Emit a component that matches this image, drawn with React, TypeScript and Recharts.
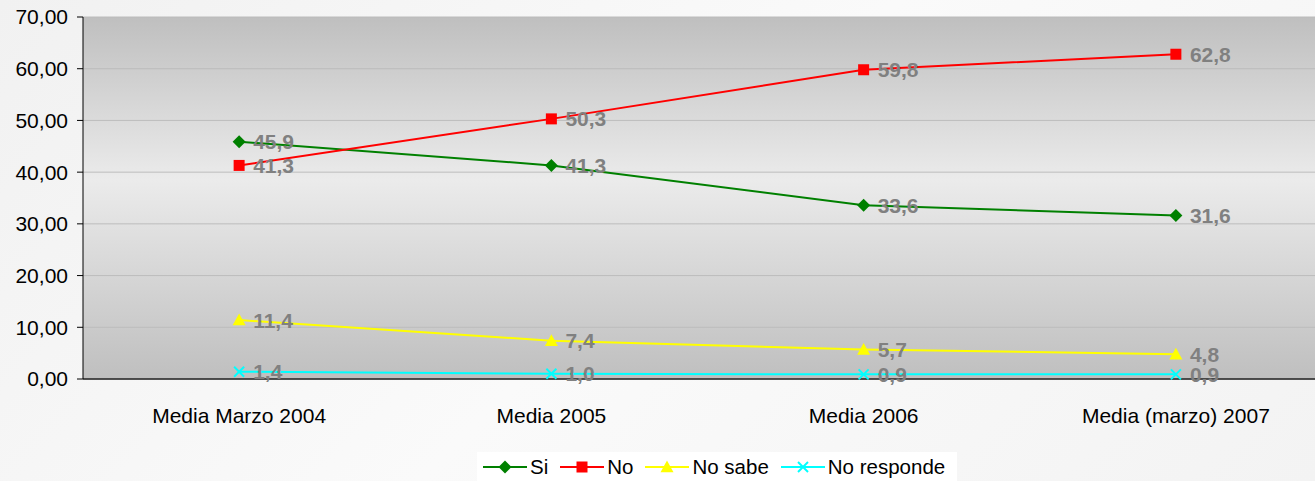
import React from 'react';
import {
  LineChart,
  Line,
  XAxis,
  YAxis,
  CartesianGrid,
  Legend,
  LabelList,
} from 'recharts';

const categories = ['Media Marzo 2004', 'Media 2005', 'Media 2006', 'Media (marzo) 2007'];
const siValues = [45.9, 41.3, 33.6, 31.6];
const noValues = [41.3, 50.3, 59.8, 62.8];
const noSabeValues = [11.4, 7.4, 5.7, 4.8];
const noRespondeValues = [1.4, 1.0, 0.9, 0.9];
const yTicks = [0, 10, 20, 30, 40, 50, 60, 70];

const data = categories.map((c, i) => ({
  cat: c,
  si: siValues[i],
  no: noValues[i],
  noSabe: noSabeValues[i],
  noResponde: noRespondeValues[i],
}));

const FONT = '"Liberation Sans", Arial, sans-serif';

type MarkerKind = 'diamond' | 'square' | 'triangle' | 'x';

const Marker = ({ kind, cx, cy, color }: { kind: MarkerKind; cx: number; cy: number; color: string }) => {
  if (cx == null || cy == null) return null;
  if (kind === 'diamond') {
    const r = 6.5;
    return <polygon points={`${cx},${cy - r} ${cx + r},${cy} ${cx},${cy + r} ${cx - r},${cy}`} fill={color} />;
  }
  if (kind === 'square') {
    const r = 5.5;
    return <rect x={cx - r} y={cy - r} width={2 * r} height={2 * r} fill={color} />;
  }
  if (kind === 'triangle') {
    const r = 6.5;
    return <polygon points={`${cx},${cy - r} ${cx + r},${cy + r * 0.8} ${cx - r},${cy + r * 0.8}`} fill={color} />;
  }
  const r = 5;
  return (
    <g stroke={color} strokeWidth={2}>
      <line x1={cx - r} y1={cy - r} x2={cx + r} y2={cy + r} />
      <line x1={cx - r} y1={cy + r} x2={cx + r} y2={cy - r} />
    </g>
  );
};

const seriesDefs: { key: string; name: string; color: string; marker: MarkerKind }[] = [
  { key: 'si', name: 'Si', color: '#008000', marker: 'diamond' },
  { key: 'no', name: 'No', color: '#ff0000', marker: 'square' },
  { key: 'noSabe', name: 'No sabe', color: '#ffff00', marker: 'triangle' },
  { key: 'noResponde', name: 'No responde', color: '#00ffff', marker: 'x' },
];

const fmtLabel = (v: any) => Number(v).toFixed(1).replace('.', ',');
const fmtTick = (v: any) => Number(v).toFixed(2).replace('.', ',');

const LegendContent = () => (
  <div
    style={{
      background: '#ffffff',
      width: 480,
      height: 29,
      display: 'flex',
      alignItems: 'center',
      paddingLeft: 6,
      boxSizing: 'border-box',
      fontFamily: FONT,
      fontSize: 20.5,
      color: '#000',
      whiteSpace: 'nowrap',
      overflow: 'visible',
    }}
  >
    {seriesDefs.map((s) => (
      <div key={s.key} style={{ display: 'flex', alignItems: 'center', marginRight: 12, flexShrink: 0 }}>
        <svg width={44} height={16} style={{ display: 'block', flexShrink: 0 }}>
          <line x1={0} y1={8} x2={44} y2={8} stroke={s.color} strokeWidth={2} />
          <Marker kind={s.marker} cx={22} cy={8} color={s.color} />
        </svg>
        <span style={{ marginLeft: 3, lineHeight: '29px', whiteSpace: 'nowrap' }}>{s.name}</span>
      </div>
    ))}
  </div>
);

export default function App() {
  return (
    <div
      style={{
        position: 'absolute',
        left: 0,
        top: 0,
        width: 1315,
        height: 481,
        overflow: 'hidden',
        background: 'linear-gradient(135deg, #f1f1f1 0%, #fafafa 50%, #f3f3f3 100%)',
      }}
    >
      <LineChart
        width={1335}
        height={481}
        data={data}
        margin={{ top: 17, right: 3, left: 0, bottom: 62 }}
      >
        <defs>
          <linearGradient id="plotBg" x1="0" y1="0" x2="0" y2="1">
            <stop offset="0%" stopColor="#bfbfbf" />
            <stop offset="45%" stopColor="#ebebeb" />
            <stop offset="100%" stopColor="#bfbfbf" />
          </linearGradient>
        </defs>
        <CartesianGrid vertical={false} stroke="#bcbcbc" fill="url(#plotBg)" fillOpacity={1} />
        <XAxis
          dataKey="cat"
          scale="band"
          height={40}
          tickLine={false}
          axisLine={{ stroke: '#222', strokeWidth: 1.5 }}
          tickMargin={23}
          tick={{ fill: '#000', fontSize: 21, fontFamily: FONT }}
          interval={0}
        />
        <YAxis
          width={83}
          domain={[0, 70]}
          ticks={yTicks}
          tickFormatter={fmtTick}
          tickSize={6}
          tickMargin={9}
          axisLine={{ stroke: '#000' }}
          tickLine={{ stroke: '#000' }}
          tick={{ fill: '#000', fontSize: 21, fontFamily: FONT }}
          interval={0}
        />
        <Legend
          layout="horizontal"
          verticalAlign="middle"
          align="center"
          wrapperStyle={{ position: 'absolute', top: 452, left: 477, width: 480, height: 29 }}
          content={<LegendContent />}
        />
        {seriesDefs.map((s) => (
          <Line
            key={s.key}
            type="linear"
            dataKey={s.key}
            name={s.name}
            stroke={s.color}
            strokeWidth={2}
            isAnimationActive={false}
            dot={(p: any) => <Marker key={`${s.key}-${p.index}`} kind={s.marker} cx={p.cx} cy={p.cy} color={s.color} />}
            activeDot={false}
          >
            <LabelList
              dataKey={s.key}
              position="right"
              offset={14}
              formatter={fmtLabel}
              style={{ fill: '#808080', fontWeight: 'bold', fontSize: 21, fontFamily: FONT }}
            />
          </Line>
        ))}
      </LineChart>
    </div>
  );
}
